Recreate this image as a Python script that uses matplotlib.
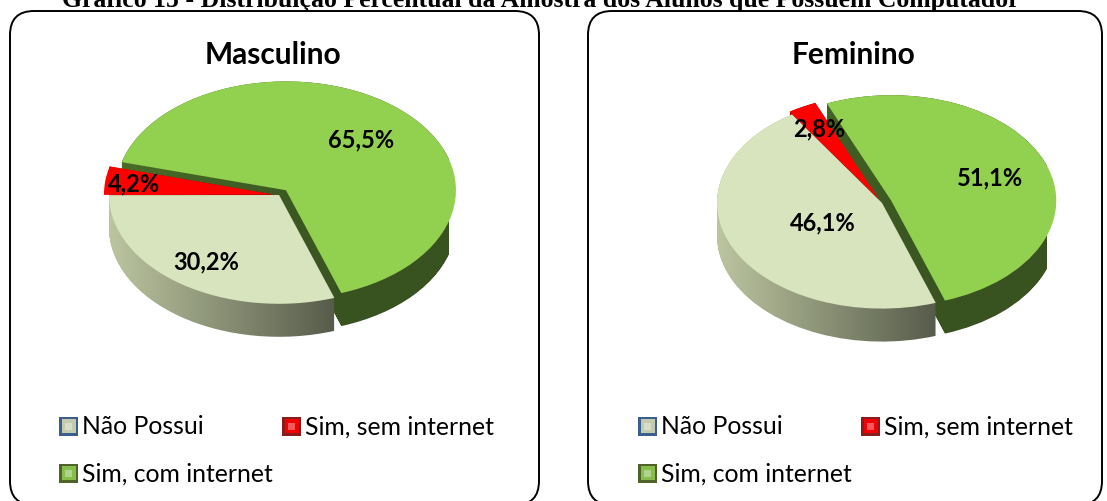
import numpy as np
import matplotlib
matplotlib.use("Agg")
import matplotlib.pyplot as plt
from matplotlib.patches import FancyBboxPatch, Rectangle
from matplotlib.path import Path
from matplotlib.transforms import Affine2D
from matplotlib.colors import to_rgb

W, H = 1107, 502

titulo = "Gráfico 15 - Distribuição Percentual da Amostra dos Alunos que Possuem Computador"
categorias = ["Não Possui", "Sim, sem internet", "Sim, com internet"]
masculino = [30.2, 4.2, 65.5]
feminino = [46.1, 2.8, 51.1]
paineis = ["Masculino", "Feminino"]

cor_topo = ["#D7E4BD", "#FF0000", "#92D050"]
cor_lado = [("#BCC5A0", "#4E5343"), ("#C00000", "#7A0000"), ("#4A6D28", "#385220")]
cor_legenda = [("#3A5F8E", "#C4CAAE"), ("#8C1C1C", "#F00000"), ("#4F6228", "#86BE4E")]
explode = [0.0, 0.03, 0.06]   # fração do raio

FONTE = "Lato"


def yp(y):
    # coordenada de imagem (y para baixo) -> dados (y para cima)
    return H - y


def gradiente(c0, c1, n=256, fim=0.72):
    a, b = np.array(to_rgb(c0)), np.array(to_rgb(c1))
    t = np.clip(np.linspace(0, 1, n) / fim, 0, 1)[:, None]
    return (a * (1 - t) + b * t)[None, :, :]


def pizza3d(ax, valores, cx, cy, r, dist, s=0.64, prof=33):
    cy = yp(cy)
    wedges, _ = ax.pie(valores, colors=cor_topo, startangle=-71, counterclock=False,
                       explode=[e * r for e in explode], center=(cx, cy), radius=r,
                       wedgeprops=dict(linewidth=0))
    achata = Affine2D().translate(-cx, -cy).scale(1, s).translate(cx, cy)
    meio = [np.radians((w.theta1 + w.theta2) / 2) for w in wedges]
    # paredes: de trás para a frente
    ordem = np.argsort([-np.sin(m) for m in meio])
    for z, i in enumerate(ordem):
        p = wedges[i].get_path()
        v = achata.transform(p.vertices)
        verts, codes = [], []
        for k in range(0, prof + 1):
            verts.append(v - [0, k])
            codes.append(p.codes)
        caminho = Path(np.vstack(verts), np.concatenate(codes))
        im = ax.imshow(gradiente(*cor_lado[i]), extent=(cx - r, cx + r, cy - r - prof - 20, cy + r),
                       aspect="auto", interpolation="bilinear", zorder=2 + z * 0.01)
        im.set_clip_path(caminho, ax.transData)
    for i, w in enumerate(wedges):
        w.set_transform(achata + ax.transData)
        w.set_zorder(3)
        c = np.array(w.center) + r * dist[i] * np.array([np.cos(meio[i]), np.sin(meio[i])])
        x, y = achata.transform(c)
        rot = f"{valores[i]:.1f}".replace(".", ",") + "%"
        ax.text(x, y, rot, ha="center", va="center", fontsize=17, fontweight="bold",
                family=FONTE, color="black", zorder=4)


fig = plt.figure(figsize=(W / 100, H / 100), dpi=100)
ax = fig.add_axes([0, 0, 1, 1])

ax.text(541, yp(7.5), titulo, ha="center", va="baseline", fontsize=18.5, fontweight="bold",
        family="Liberation Serif", zorder=5)

caixas = [(10, 529), (588, 514)]
for j, nome in enumerate(paineis):
    x0, larg = caixas[j]
    ax.add_patch(FancyBboxPatch((x0, yp(506)), larg, 494,
                                boxstyle="round,pad=0,rounding_size=24", lw=1.4,
                                ec="black", fc="white", zorder=0))
    ax.text(273 + j * 580, yp(55), nome, ha="center", va="center", fontsize=21.5,
            fontweight="bold", family=FONTE, zorder=4)
    # legenda
    pos = [(0, 427), (223, 427), (0, 474)]
    for i, cat in enumerate(categorias):
        lx = 59 + j * 579 + pos[i][0]
        ly = yp(pos[i][1])
        borda, miolo = cor_legenda[i]
        ax.add_patch(Rectangle((lx, ly - 9.5), 19, 19, fc=borda, ec="none", zorder=3))
        ax.add_patch(Rectangle((lx + 2.5, ly - 7), 14, 14, fc=miolo, ec="none", zorder=3))
        ax.add_patch(Rectangle((lx + 6, ly - 3.5), 7, 7, fc="white", alpha=0.35, ec="none", zorder=3))
        ax.text(lx + 23, ly, cat, ha="left", va="center", fontsize=17.8, family=FONTE, zorder=4)

pizza3d(ax, masculino, 279, 196, 170, dist=[0.74, 0.83, 0.65])
pizza3d(ax, feminino, 882, 204, 165, dist=[0.4, 0.78, 0.64])

ax.set_xlim(0, W)
ax.set_ylim(0, H)
ax.set_aspect("auto")
ax.axis("off")
fig.savefig("out.png", dpi=100)
